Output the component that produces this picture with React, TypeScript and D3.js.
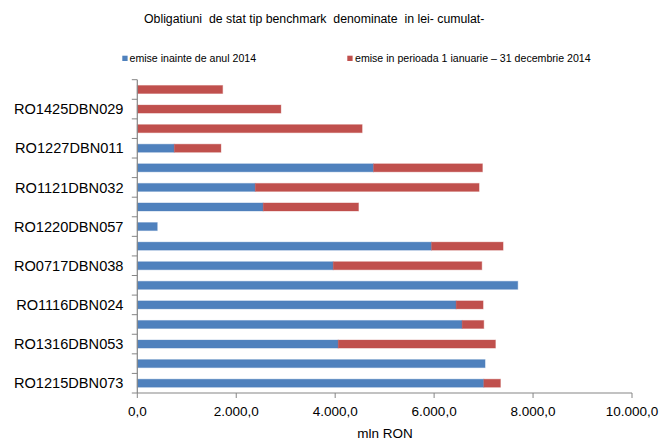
import React from 'react'
import * as d3 from 'd3'

// categories top -> bottom; Excel shows only every other label
const bonds = [
	'', 'RO1425DBN029', '', 'RO1227DBN011', '', 'RO1121DBN032', '', 'RO1220DBN057',
	'', 'RO0717DBN038', '', 'RO1116DBN024', '', 'RO1316DBN053', '', 'RO1215DBN073',
]
const before2014 = [0, 0, 0, 747, 4775, 2384, 2545, 404, 5947, 3960, 7691, 6445, 6566, 4061, 7030, 7004]
const during2014 = [1725, 2903, 4545, 944, 2202, 4525, 1927, 0, 1447, 3004, 0, 545, 438, 3179, 0, 337]
const xTicks = [0, 2000, 4000, 6000, 8000, 10000]
const seriesNames = ['emise inainte de anul 2014', 'emise in perioada 1 ianuarie – 31 decembrie 2014']
const colors = ['#4F81BD', '#C0504D']

const W = 664
const H = 441
const margin = { top: 79.7, right: 32, bottom: 48, left: 137.3 }
const font = '"Liberation Sans", Arial, sans-serif'
const axisColor = '#868686'

const fmt = (v: number) => {
	const s = d3.format(',.1f')(v)
	return s.replace(/,/g, '#').replace('.', ',').replace(/#/g, '.')
}

const App = () => {
	const x = d3.scaleLinear().domain([0, 10000]).range([margin.left, 632])
	const y = d3
		.scaleBand<number>()
		.domain(d3.range(bonds.length))
		.range([margin.top, 393])
		.paddingInner(0.59)
		.paddingOuter(0.295)
	const step = y.step()
	const bottom = 393

	const stacked = bonds.map((_, i) => [
		[0, before2014[i]],
		[before2014[i], before2014[i] + during2014[i]],
	])

	return (
		<svg width={W} height={H} style={{ position: 'absolute', left: 0, top: 0, background: '#fff' }} fontFamily={font}>
			<text x={144} y={23.3} fontSize={12.3} fill="#000" style={{ whiteSpace: 'pre' }}>
				{'Obligatiuni  de stat tip benchmark  denominate  in lei- cumulat-'}
			</text>
			{/* legend */}
			<rect x={122.3} y={55.7} width={5.3} height={5.3} fill={colors[0]} />
			<text x={129.5} y={62.3} fontSize={10.6} fill="#000">{seriesNames[0]}</text>
			<rect x={347.3} y={55.7} width={5.3} height={5.3} fill={colors[1]} />
			<text x={355} y={62.3} fontSize={10.6} fill="#000">{seriesNames[1]}</text>

			{/* bars */}
			{stacked.map((segs, i) =>
				segs.map(([a, b], k) =>
					b > a ? (
						<rect
							key={`${i}-${k}`}
							x={x(a)}
							y={y(i)}
							width={x(b) - x(a)}
							height={y.bandwidth()}
							fill={colors[k]}
							stroke={colors[k]}
							strokeOpacity={0.35}
							strokeWidth={1}
						/>
					) : null
				)
			)}

			{/* category axis */}
			<line x1={margin.left} x2={margin.left} y1={margin.top} y2={bottom} stroke={axisColor} strokeWidth={1.2} />
			{d3.range(bonds.length + 1).map((i) => (
				<line
					key={i}
					x1={margin.left - 5.5}
					x2={margin.left}
					y1={margin.top + i * step}
					y2={margin.top + i * step}
					stroke={axisColor}
					strokeWidth={1}
				/>
			))}
			{bonds.map((b, i) =>
				b ? (
					<text
						key={b}
						x={123.5}
						y={(y(i) ?? 0) + y.bandwidth() / 2}
						dy="0.36em"
						textAnchor="end"
						fontSize={14.6}
						fill="#000"
					>
						{b}
					</text>
				) : null
			)}

			{/* value axis */}
			<line x1={margin.left} x2={632} y1={bottom} y2={bottom} stroke={axisColor} strokeWidth={1.2} />
			{xTicks.map((t) => (
				<g key={t}>
					<line x1={x(t)} x2={x(t)} y1={bottom} y2={bottom + 5} stroke={axisColor} strokeWidth={1} />
					<text x={x(t)} y={415.5} textAnchor="middle" fontSize={13.5} fill="#000">
						{fmt(t)}
					</text>
				</g>
			))}
			<text x={385} y={437.5} textAnchor="middle" fontSize={13.5} fill="#000">
				mln RON
			</text>
		</svg>
	)
}

export default App
